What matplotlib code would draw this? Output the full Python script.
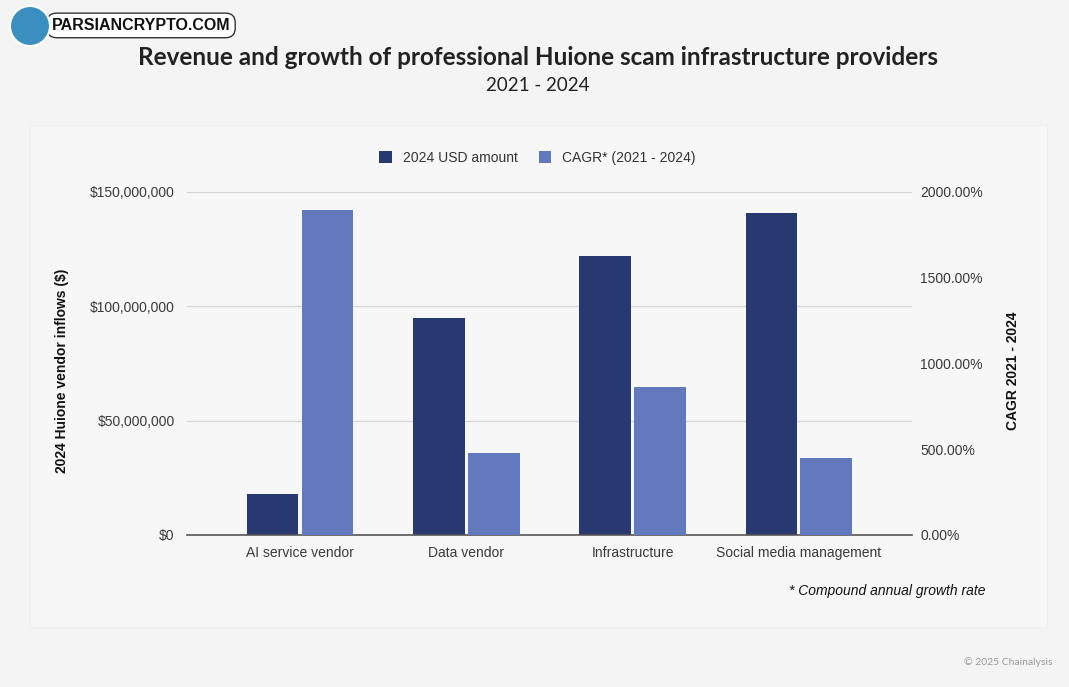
import numpy as np
import matplotlib.pyplot as plt
from matplotlib.patches import Rectangle, Ellipse
from matplotlib.ticker import FuncFormatter

# datos
categorias = ["AI service vendor", "Data vendor", "Infrastructure", "Social media management"]
usd_2024 = [18_000_000, 95_000_000, 122_000_000, 141_000_000]
cagr = [1895, 478, 863, 449]

color_usd = "#283870"
color_cagr = "#6379bd"
fondo = "#f4f4f4"

plt.rcParams['font.family'] = ['Liberation Sans', 'DejaVu Sans']

fig = plt.figure(figsize=(10.69, 6.87), dpi=100, facecolor=fondo)

# panel interior
fig.patches.append(Rectangle((30 / 1069, 1 - 627 / 687), 1017 / 1069, 502 / 687,
                             transform=fig.transFigure, facecolor="#f7f7f7",
                             edgecolor="#efefef", linewidth=0.8, zorder=-5))

ax = fig.add_axes([0.175, 0.2213, 0.678, 0.4993])
ax.set_facecolor("none")
ax2 = ax.twinx()

x = np.arange(len(categorias))
w = 0.31
ax.bar(x - w / 2 - 0.01, usd_2024, width=w, color=color_usd, label="2024 USD amount", zorder=3)
ax2.bar(x + w / 2 + 0.01, cagr, width=w, color=color_cagr, label="CAGR* (2021 - 2024)", zorder=3)

ax.set_xlim(-0.68, 3.68)
ax.set_ylim(0, 150_000_000)
ax2.set_ylim(0, 2000)
ax.set_yticks([0, 50_000_000, 100_000_000, 150_000_000])
ax2.set_yticks([0, 500, 1000, 1500, 2000])
ax.yaxis.set_major_formatter(FuncFormatter(lambda v, p: f"${v:,.0f}"))
ax2.yaxis.set_major_formatter(FuncFormatter(lambda v, p: f"{v:.2f}%"))

ax.grid(axis="y", color="#d6d6d6", linewidth=0.9, zorder=0)
ax.set_axisbelow(True)
ax.set_xticks(x)
ax.set_xticklabels(categorias)

for a in (ax, ax2):
    for s in a.spines.values():
        s.set_visible(False)
    a.tick_params(length=0, labelsize=10, colors="#3a3a3a")
ax2.spines["bottom"].set_visible(True)
ax2.spines["bottom"].set_color("#555555")
ax2.spines["bottom"].set_linewidth(1.2)
ax.tick_params(axis="y", pad=9)
ax2.tick_params(axis="y", pad=6)
ax.tick_params(axis="x", pad=8)

# etiquetas de ejes
fig.text(0.058, 0.46, "2024 Huione vendor inflows ($)", rotation=90, ha="center", va="center",
         fontsize=10, fontweight="bold", color="#111111")
fig.text(0.948, 0.46, "CAGR 2021 - 2024", rotation=90, ha="center", va="center",
         fontsize=10, fontweight="bold", color="#111111")

# leyenda
h1, l1 = ax.get_legend_handles_labels()
h2, l2 = ax2.get_legend_handles_labels()
fig.legend(h1 + h2, l1 + l2, loc="center", bbox_to_anchor=(0.503, 0.77), ncol=2,
           frameon=False, fontsize=10, handlelength=0.9, handleheight=0.9,
           columnspacing=1.5, handletextpad=0.8, labelcolor="#333333")

# titulos
fig.text(0.503, 0.917, "Revenue and growth of professional Huione scam infrastructure providers",
         ha="center", va="center", fontsize=17.5, fontweight="bold", color="#222222",
         family=["Lato", "DejaVu Sans"])
fig.text(0.503, 0.875, "2021 - 2024", ha="center", va="center", fontsize=13.5,
         color="#222222", family=["Lato", "DejaVu Sans"])

fig.text(0.922, 0.14, "* Compound annual growth rate", ha="right", va="center",
         fontsize=10, style="italic", color="#111111")
fig.text(0.985, 0.037, "\u00a9 2025 Chainalysis", ha="right", va="center",
         fontsize=7.5, color="#9a9a9a", family=["Lato", "DejaVu Sans"])

# marca de agua
fig.text(0.132, 0.963, "PARSIANCRYPTO.COM", ha="center", va="center", fontsize=11.5,
         fontweight="bold", color="#111111",
         bbox=dict(boxstyle="round,pad=0.3,rounding_size=0.6", facecolor="white",
                   edgecolor="#333333", linewidth=1.0))
fig.patches.append(Ellipse((30 / 1069, 1 - 26 / 687), 40 / 1069, 40 / 687,
                           transform=fig.transFigure, facecolor="#3a8fc0",
                           edgecolor="white", linewidth=1.5, zorder=5))

fig.savefig("out.png", dpi=100, facecolor=fondo)
